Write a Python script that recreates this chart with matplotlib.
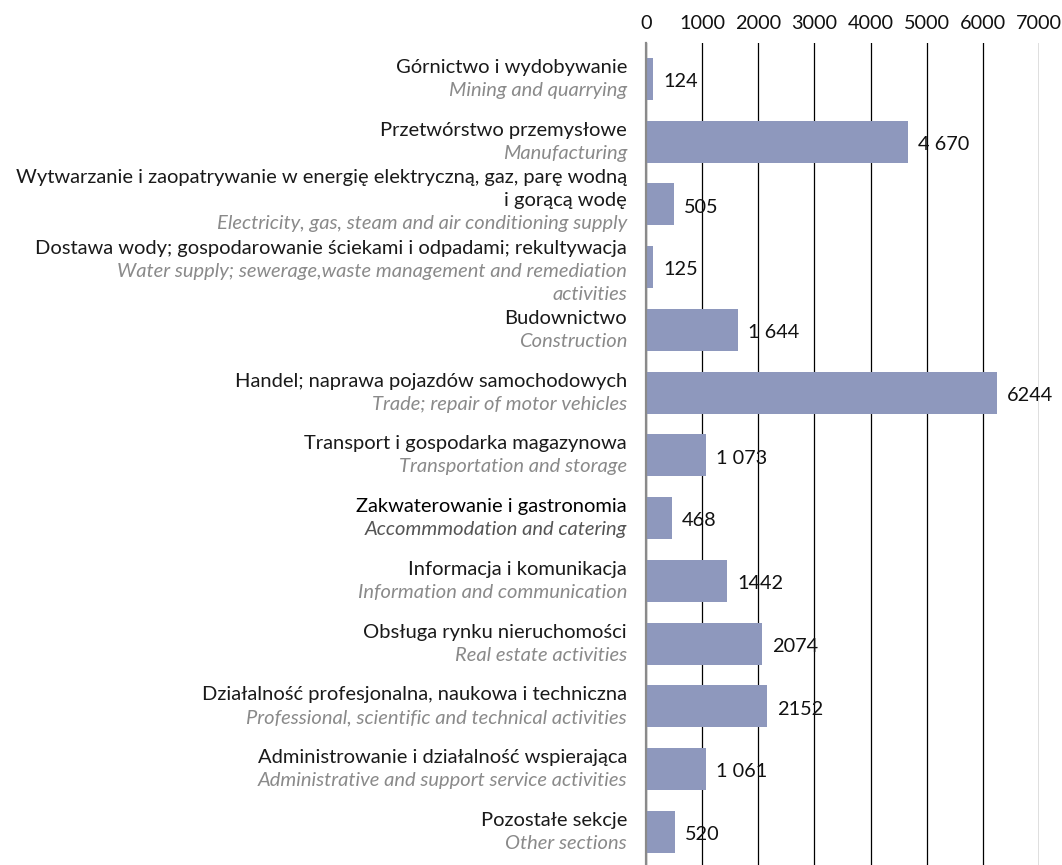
import matplotlib
matplotlib.use("Agg")
import matplotlib.pyplot as plt

categories_pl = [
    "Górnictwo i wydobywanie",
    "Przetwórstwo przemysłowe",
    "Wytwarzanie i zaopatrywanie w energię elektryczną, gaz, parę wodną\ni gorącą wodę",
    "Dostawa wody; gospodarowanie ściekami i odpadami; rekultywacja",
    "Budownictwo",
    "Handel; naprawa pojazdów samochodowych",
    "Transport i gospodarka magazynowa",
    "Zakwaterowanie i gastronomia",
    "Informacja i komunikacja",
    "Obsługa rynku nieruchomości",
    "Działalność profesjonalna, naukowa i techniczna",
    "Administrowanie i działalność wspierająca",
    "Pozostałe sekcje",
]
categories_en = [
    "Mining and quarrying",
    "Manufacturing",
    "Electricity, gas, steam and air conditioning supply",
    "Water supply; sewerage,waste management and remediation\nactivities",
    "Construction",
    "Trade; repair of motor vehicles",
    "Transportation and storage",
    "Accommmodation and catering",
    "Information and communication",
    "Real estate activities",
    "Professional, scientific and technical activities",
    "Administrative and support service activities",
    "Other sections",
]
values = [124, 4670, 505, 125, 1644, 6244, 1073, 468, 1442, 2074, 2152, 1061, 520]
value_labels = ["124", "4 670", "505", "125", "1 644", "6244", "1 073", "468",
                "1442", "2074", "2152", "1 061", "520"]
xticks = [0, 1000, 2000, 3000, 4000, 5000, 6000, 7000]

FONT = "Lato"
FS = 14.5
FS_NUM = 14.3
BAR = "#8E98BD"

fig = plt.figure(figsize=(10.62, 8.65), dpi=100)
W, H = 1062, 865
x0, x1 = 646, 1039
ytop, ybot = 43, 865
ax = fig.add_axes([x0 / W, 1 - ybot / H, (x1 - x0) / W, (ybot - ytop) / H])

n = len(values)
ypos = list(range(n))
ax.barh(ypos, values, height=0.67, color=BAR, zorder=3)
ax.set_ylim(n - 1 + 0.53, -0.574)
ax.set_xlim(0, 7000)

ax.set_xticks(xticks)
ax.set_xticklabels([str(t) for t in xticks], fontfamily=FONT, fontsize=FS_NUM, color="#111111")
ax.xaxis.tick_top()
ax.tick_params(axis="x", length=0, pad=8)
ax.set_yticks([])
ax.grid(axis="x", color="#000000", linewidth=0.9, zorder=1)
for s in ["top", "right", "bottom"]:
    ax.spines[s].set_visible(False)
ax.spines["left"].set_color("#8a8a8a")
ax.spines["left"].set_linewidth(1.6)
ax.spines["left"].set_zorder(4)

LINE = 23 * 0.72  # line spacing in points
for i in range(n):
    pl_lines = categories_pl[i].split("\n")
    en_lines = categories_en[i].split("\n")
    special = categories_pl[i].startswith("Zakwaterowanie")
    pl_col = "#000000" if special else "#1a1a1a"
    en_col = "#555555" if special else "#8a8a8a"
    lines = [(t, pl_col, "normal") for t in pl_lines] + [(t, en_col, "italic") for t in en_lines]
    k = len(lines)
    shift = -(len(en_lines) - len(pl_lines)) * 4 * 0.72
    for j, (t, c, st) in enumerate(lines):
        off = -(j - (k - 1) / 2) * LINE + shift
        ax.annotate(t, xy=(0, i), xycoords="data", xytext=(-19 * 0.72, off),
                    textcoords="offset points", ha="right", va="center",
                    fontfamily=FONT, fontsize=FS, fontstyle=st, color=c,
                    annotation_clip=False)
    ax.annotate(value_labels[i], xy=(values[i], i), xycoords="data",
                xytext=(10 * 0.72, -2), textcoords="offset points",
                ha="left", va="center", fontfamily=FONT, fontsize=FS_NUM,
                color="#111111", annotation_clip=False, zorder=5)

fig.savefig("out.png", dpi=100)
